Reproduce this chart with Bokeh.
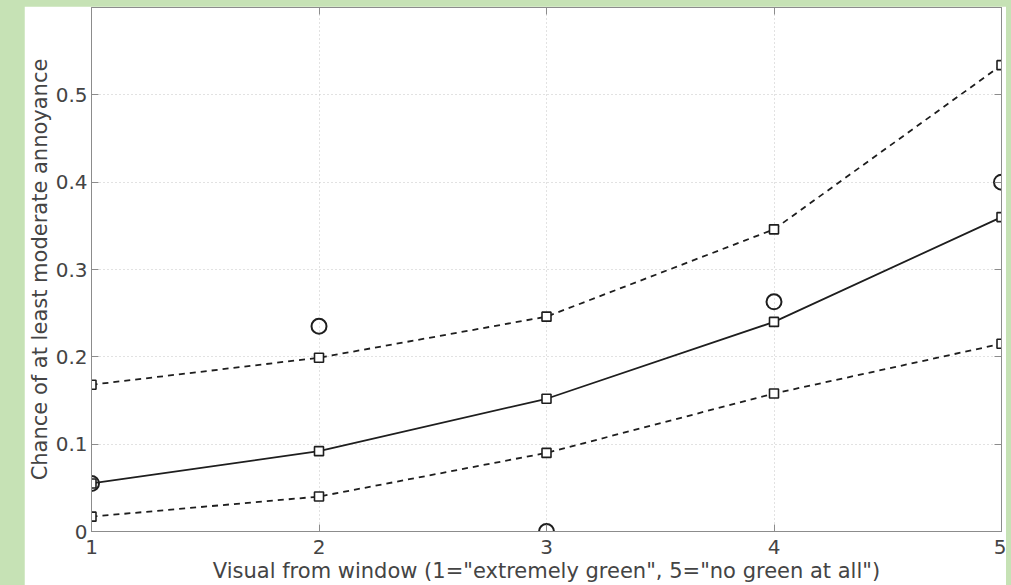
from bokeh.plotting import figure
from bokeh.models import Range1d, FixedTicker, LinearAxis, GlobalInlineStyleSheet
from bokeh.embed import file_html
from bokeh.resources import INLINE

x_levels = [1, 2, 3, 4, 5]
mean_curve = [0.055, 0.092, 0.152, 0.240, 0.360]
upper_curve = [0.168, 0.199, 0.246, 0.346, 0.534]
lower_curve = [0.017, 0.040, 0.090, 0.158, 0.215]
observed = [0.055, 0.235, 0.0, 0.263, 0.400]
y_ticks = [0, 0.1, 0.2, 0.3, 0.4, 0.5]
y_tick_labels = ["0", "0.1", "0.2", "0.3", "0.4", "0.5"]
x_ticks = [1, 2, 3, 4, 5]
x_tick_labels = ["1", "2", "3", "4", "5"]

FONT = "DejaVu Sans"
TXT = "#444444"
AX = "#8c8c8c"
INK = "#1e1e1e"

p = figure(width=982, height=579, output_backend="svg", toolbar_location=None,
           x_range=Range1d(1, 5), y_range=Range1d(0, 0.6),
           min_border_left=67, min_border_right=5, min_border_top=1,
           min_border_bottom=54, background_fill_color="white",
           border_fill_color="white", outline_line_color=AX)
p.margin = (6, 0, 0, 24)
p.stylesheets = [GlobalInlineStyleSheet(css="body{background:#c6e2b5;}")]

for ax in (p.xaxis[0], p.yaxis[0]):
    ax.axis_line_color = AX
    ax.major_tick_line_color = AX
    ax.major_tick_in = 7
    ax.major_tick_out = 0
    ax.minor_tick_line_color = None
    ax.major_label_text_font = FONT
    ax.major_label_text_font_size = "20px"
    ax.major_label_text_color = TXT
    ax.axis_label_text_font = FONT
    ax.axis_label_text_font_size = "21px"
    ax.axis_label_text_font_style = "normal"
    ax.axis_label_text_color = TXT

p.xaxis[0].ticker = FixedTicker(ticks=x_ticks)
p.xaxis[0].major_label_overrides = dict(zip(x_ticks, x_tick_labels))
p.xaxis[0].major_label_standoff = 8
p.xaxis[0].axis_label = 'Visual from window (1="extremely green", 5="no green at all")'
p.xaxis[0].axis_label_standoff = 2

p.yaxis[0].ticker = FixedTicker(ticks=y_ticks)
p.yaxis[0].major_label_overrides = dict(zip(y_ticks, y_tick_labels))
p.yaxis[0].major_label_standoff = 4
p.yaxis[0].axis_label = "Chance of at least moderate annoyance"
p.yaxis[0].axis_label_standoff = 1

for side, ticks in (("right", y_ticks), ("above", x_ticks)):
    a = LinearAxis(ticker=FixedTicker(ticks=ticks), axis_line_color=AX,
                   major_tick_line_color=AX, major_tick_in=7, major_tick_out=0,
                   minor_tick_line_color=None,
                   major_label_overrides={t: "" for t in ticks},
                   major_label_standoff=0)
    p.add_layout(a, side)

p.xgrid.ticker = FixedTicker(ticks=x_ticks)
p.ygrid.ticker = FixedTicker(ticks=y_ticks)
for g in (p.xgrid[0], p.ygrid[0]):
    g.grid_line_color = "#c4c4c4"
    g.grid_line_dash = "1 3"
    g.grid_line_width = 1

p.line(x_levels, mean_curve, line_color=INK, line_width=1.8)
p.line(x_levels, upper_curve, line_color=INK, line_width=1.8, line_dash="6 5")
p.line(x_levels, lower_curve, line_color=INK, line_width=1.8, line_dash="6 5")
for series in (mean_curve, upper_curve, lower_curve):
    p.scatter(x_levels, series, marker="square", size=9, fill_color="white",
              line_color=INK, line_width=1.6)
p.scatter(x_levels, observed, marker="circle", size=15, fill_color=None,
          line_color=INK, line_width=2)

open("out.html", "w").write(file_html(p, INLINE))
